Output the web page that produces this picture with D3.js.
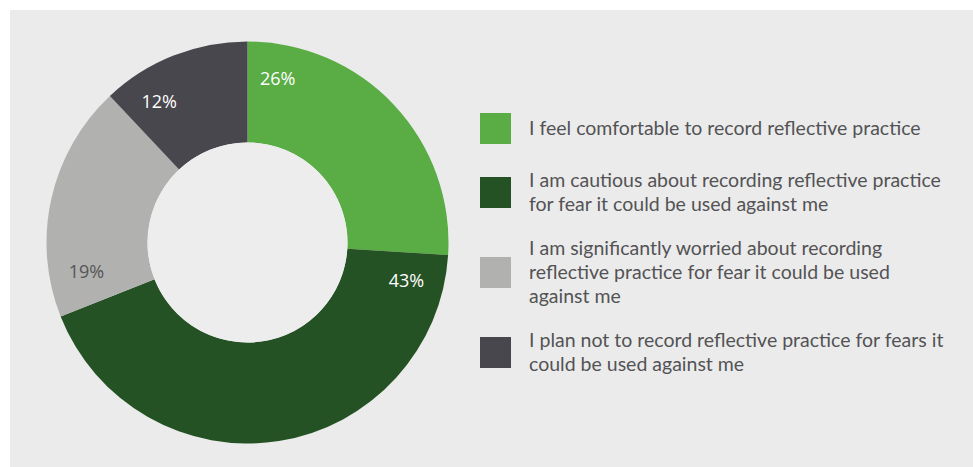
<!DOCTYPE html>
<html>
<head>
<meta charset="utf-8">
<script src="https://cdn.jsdelivr.net/npm/d3@7"></script>
<style>
  html, body { margin: 0; padding: 0; background: #ffffff; }
  svg { display: block; }
</style>
</head>
<body>
<svg id="chart" width="973" height="467"></svg>
<script>
const categories = [
  "I feel comfortable to record reflective practice",
  "I am cautious about recording reflective practice for fear it could be used against me",
  "I am significantly worried about recording reflective practice for fear it could be used against me",
  "I plan not to record reflective practice for fears it could be used against me"
];
const legendLines = [
  ["I feel comfortable to record reflective practice"],
  ["I am cautious about recording reflective practice", "for fear it could be used against me"],
  ["I am significantly worried about recording", "reflective practice for fear it could be used", "against me"],
  ["I plan not to record reflective practice for fears it", "could be used against me"]
];
const values = [26, 43, 19, 12];
const colors = ["#59ad44", "#255224", "#b1b1af", "#48474d"];
const labelColors = ["#ffffff", "#ffffff", "#555558", "#ffffff"];

const svg = d3.select("#chart");
const W = 973, H = 467;

svg.append("rect").attr("x", 10).attr("y", 10).attr("width", W - 10).attr("height", H - 10).attr("fill", "#ebebeb");

const cx = 247.5, cy = 242.5, rOuter = 201, rInner = 100;
const g = svg.append("g").attr("transform", `translate(${cx},${cy})`);

const pie = d3.pie().sort(null).value(d => d)(values);
const arc = d3.arc().innerRadius(rInner).outerRadius(rOuter);

g.selectAll("path.slice").data(pie).join("path")
  .attr("class", "slice")
  .attr("d", arc)
  .attr("fill", (d, i) => colors[i]);

g.append("circle").attr("r", rInner).attr("fill", "#ededed");

const labelOffset = 0.185; // radians after slice start
const labelR = 164;
g.selectAll("text.pct").data(pie).join("text")
  .attr("class", "pct")
  .attr("x", d => labelR * Math.sin(d.startAngle + labelOffset))
  .attr("y", d => -labelR * Math.cos(d.startAngle + labelOffset) - 3)
  .attr("text-anchor", "middle")
  .attr("dominant-baseline", "central")
  .attr("font-family", "'Open Sans', sans-serif")
  .attr("font-size", 18)
  .attr("fill", (d, i) => labelColors[i])
  .text(d => d.data + "%");

// legend
const lineH = 24, minH = 40, gap = 20;
const heights = legendLines.map(l => Math.max(l.length * lineH, minH));
const total = d3.sum(heights) + gap * (heights.length - 1);
let yPos = cy - total / 2;
const lg = svg.append("g");
legendLines.forEach((lines, i) => {
  const c = yPos + heights[i] / 2;
  lg.append("rect").attr("x", 480).attr("y", c - 15.5).attr("width", 31).attr("height", 31).attr("fill", colors[i]);
  const t = lg.append("text")
    .attr("font-family", "Lato, sans-serif")
    .attr("font-size", 19.5)
    .attr("fill", "#535355");
  lines.forEach((ln, j) => {
    t.append("tspan").attr("x", 529)
      .attr("y", c + (j - (lines.length - 1) / 2) * lineH)
      .attr("dy", "0.35em")
      .text(ln);
  });
  yPos += heights[i] + gap;
});
</script>
</body>
</html>
